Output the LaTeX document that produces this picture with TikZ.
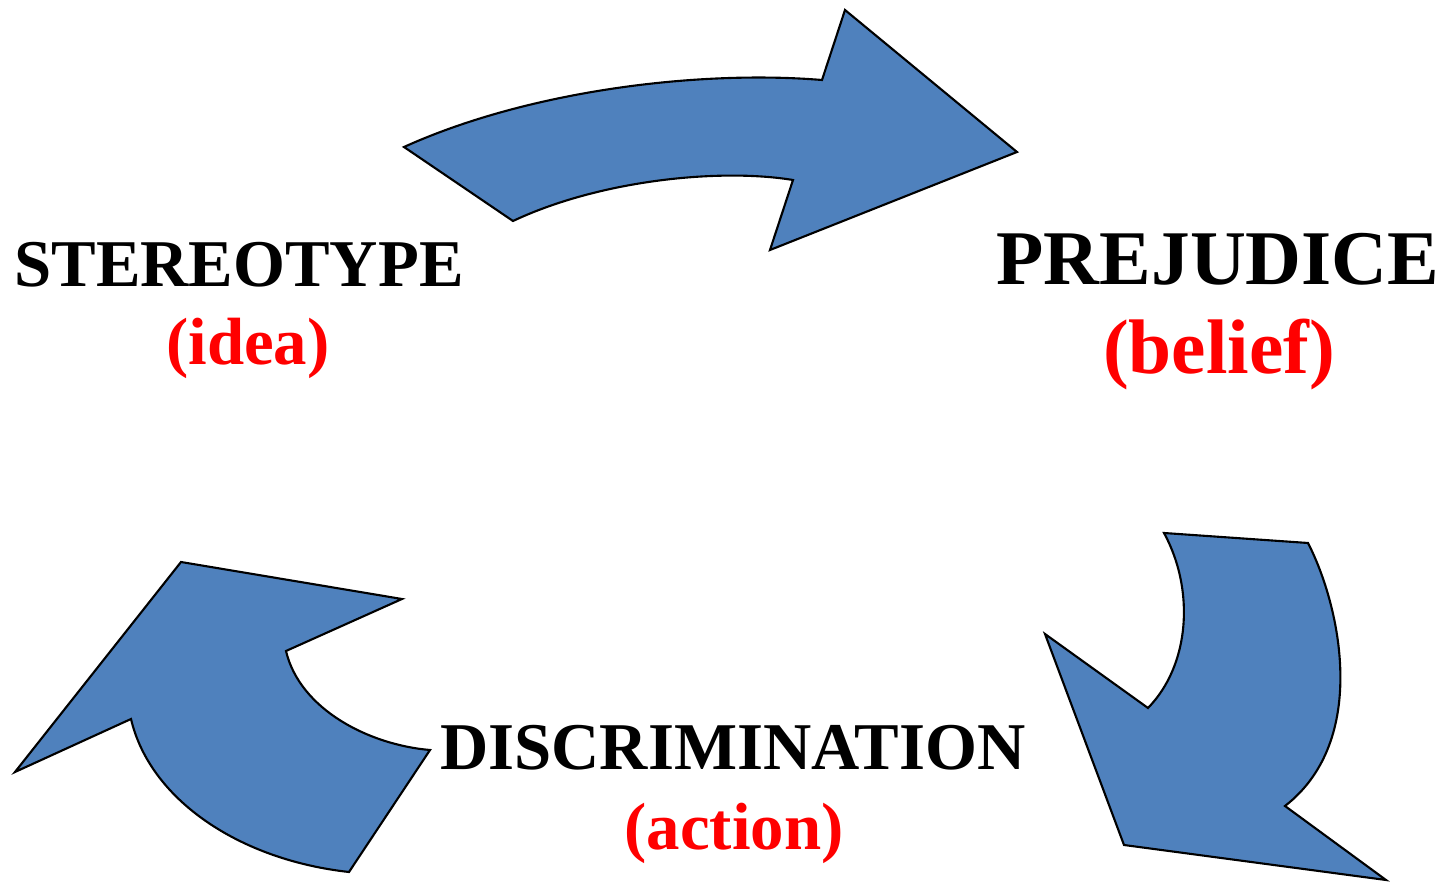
\documentclass[tikz,border=0pt]{standalone}
\usepackage{fontspec}
\setmainfont{Liberation Serif}
\usepackage{tikz}
\definecolor{arrowblue}{HTML}{4F81BD}
\definecolor{notered}{HTML}{FF0000}

\begin{document}
\begin{tikzpicture}[x=0.01cm, y=-0.01cm,
  bigarrow/.style={fill=arrowblue, draw=black, line width=0.6pt, line join=miter},
  term/.style={anchor=base, font=\bfseries\fontsize{19}{22}\selectfont, text=black, inner sep=0pt},
  gloss/.style={anchor=base, font=\bfseries\fontsize{19}{22}\selectfont, text=notered, inner sep=0pt}]
\useasboundingbox (0,0) rectangle (1450,882);
\draw [bigarrow] (404,147) .. controls (530,90) and (700,70) .. (822,80) -- (845,10) -- (1017,152)
  -- (770,250) -- (793,180) .. controls (720,168) and (600,180) .. (513,221) -- cycle;
\draw [bigarrow] (1164,533) -- (1308,543) .. controls (1340,605) and (1370,740) .. (1285,806)
  -- (1386,880) -- (1124,845) -- (1045,634) -- (1148,708) .. controls (1190,665) and (1195,590) .. cycle;
\draw [bigarrow] (181,562) -- (402,599) -- (286,651) .. controls (300,710) and (370,745) .. (430,750)
  -- (349,872) .. controls (240,860) and (150,800) .. (131,719) -- (15,772) -- cycle;
\node [term] (stereo) at (239,287) {STEREOTYPE};
\node [gloss] (idea) at (248,365) {(idea)};
\node [term, font=\bfseries\fontsize{22}{26}\selectfont] (prej) at (1218,285) {PREJUDICE};
\node [gloss, font=\bfseries\fontsize{22}{26}\selectfont] (belief) at (1219,374) {(belief)};
\node [term] (discr) at (733,770) {DISCRIMINATION};
\node [gloss] (action) at (734,850) {(action)};
\end{tikzpicture}
\end{document}
